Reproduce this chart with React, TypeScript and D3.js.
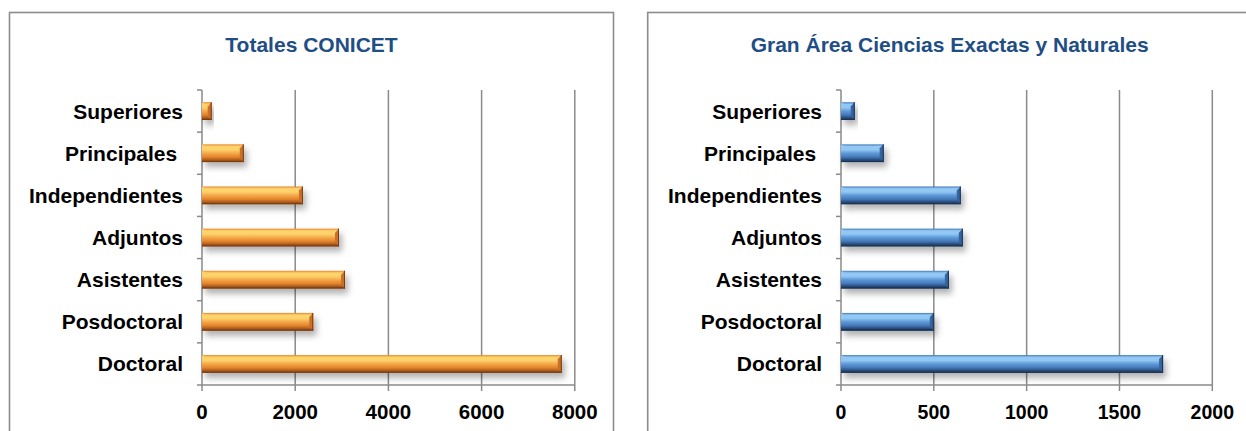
import React from "react";
import * as d3 from "d3";

const categories = ["Superiores", "Principales ", "Independientes", "Adjuntos", "Asistentes", "Posdoctoral", "Doctoral"];
const totalesValues = [208, 897, 2165, 2940, 3069, 2387, 7720];
const exactasValues = [74, 230, 645, 656, 581, 500, 1735];
const totalesTicks = [0, 2000, 4000, 6000, 8000];
const exactasTicks = [0, 500, 1000, 1500, 2000];
const titles = ["Totales CONICET", "Gran Área Ciencias Exactas y Naturales"];

type Palette = { top: string; light: string; mid: string; body: string; dark: string; edge: string; bevelR: string };
const orange: Palette = { top: "#e9822a", light: "#fdd36c", mid: "#f5a94a", body: "#e3832c", dark: "#b4601f", edge: "#7a3c10", bevelR: "#c9712a" };
const blue: Palette = { top: "#3f78b8", light: "#93c8f5", mid: "#5e9ad8", body: "#4478b8", dark: "#2a4f80", edge: "#1b3153", bevelR: "#35659c" };

const FONT = "'Liberation Sans', Arial, sans-serif";

function Panel({ fx, title, values, ticks, pal, id, x0, x1, tickSize }: any) {
  const x = d3.scaleLinear().domain([ticks[0], ticks[ticks.length - 1]]).range([x0, x1]);
  const y = d3.scaleBand<string>().domain(categories).range([90, 385]).paddingInner(0.58).paddingOuter(0.29);
  const step = y.step();
  const boundaries = d3.range(categories.length + 1).map((i) => 90 + i * step);
  const bw = y.bandwidth();
  const grid = "#8a8a8a";
  return (
    <g>
      <defs>
        <linearGradient id={`g${id}`} x1="0" y1="0" x2="0" y2="1">
          <stop offset="0" stopColor={pal.top} />
          <stop offset="0.12" stopColor={pal.light} />
          <stop offset="0.3" stopColor={pal.light} />
          <stop offset="0.5" stopColor={pal.mid} />
          <stop offset="0.72" stopColor={pal.body} />
          <stop offset="0.86" stopColor={pal.dark} />
          <stop offset="1" stopColor={pal.edge} />
        </linearGradient>
        <filter id={`s${id}`} x="-10%" y="-50%" width="130%" height="250%">
          <feDropShadow dx="3" dy="5" stdDeviation="3" floodColor="#000" floodOpacity="0.3" />
        </filter>
      </defs>
      <rect x={fx} y={12.5} width={604} height={440} fill="#fff" stroke="#8c8c8c" strokeWidth={1.6} />
      <text x={fx + 302} y={52} textAnchor="middle" fontFamily={FONT} fontWeight="bold" fontSize={21} fill="#1f4e85">
        {title}
      </text>
      {ticks.slice(1).map((t: number) => (
        <line key={t} x1={x(t)} x2={x(t)} y1={90} y2={385} stroke={grid} strokeWidth={1.5} />
      ))}
      <line x1={x0} x2={x0} y1={90} y2={385} stroke={grid} strokeWidth={1.5} />
      <line x1={x0} x2={x1} y1={385} y2={385} stroke={grid} strokeWidth={1.5} />
      {boundaries.map((b, i) => (
        <line key={i} x1={x0 - 5} x2={x0} y1={b} y2={b} stroke={grid} strokeWidth={1.5} />
      ))}
      {ticks.map((t: number) => (
        <line key={t} x1={x(t)} x2={x(t)} y1={385} y2={391} stroke={grid} strokeWidth={1.5} />
      ))}
      {ticks.map((t: number) => (
        <text key={t} x={x(t)} y={419} textAnchor="middle" fontFamily={FONT} fontWeight="bold" fontSize={tickSize} fill="#000">
          {t}
        </text>
      ))}
      {categories.map((c) => (
        <text key={c} x={x0 - 19} y={(y(c) as number) + bw / 2 + 7.5} textAnchor="end" fontFamily={FONT} fontWeight="bold" fontSize={21} fill="#000" style={{ whiteSpace: "pre" }}>
          {c}
        </text>
      ))}
      {categories.map((c, i) => {
        const by = y(c) as number;
        const xs = x(0);
        const xe = x(values[i]);
        const b = Math.min(4, (xe - xs) / 2);
        return (
          <g key={c} filter={`url(#s${id})`}>
            <rect x={xs} y={by} width={xe - xs} height={bw} fill={`url(#g${id})`} />
            <polygon points={`${xe},${by} ${xe},${by + bw} ${xe - b},${by + bw - b} ${xe - b},${by + b}`} fill={pal.bevelR} />
            <polygon points={`${xs},${by} ${xs + b * 2},${by + b} ${xs},${by + b}`} fill={pal.light} opacity={0.8} />
            <line x1={xs} x2={xe} y1={by + bw - 0.5} y2={by + bw - 0.5} stroke={pal.edge} strokeWidth={1} />
            <line x1={xe - 0.5} x2={xe - 0.5} y1={by} y2={by + bw} stroke={pal.edge} strokeWidth={1} />
          </g>
        );
      })}
    </g>
  );
}

export default function App() {
  return (
    <svg width={1246} height={431} style={{ position: "absolute", left: 0, top: 0 }}>
      <rect width={1246} height={431} fill="#fff" />
      <Panel fx={9.5} title={titles[0]} values={totalesValues} ticks={totalesTicks} pal={orange} id="a" x0={202} x1={574.8} tickSize={20.5} />
      <Panel fx={647.7} title={titles[1]} values={exactasValues} ticks={exactasTicks} pal={blue} id="b" x0={841} x1={1212.3} tickSize={19.5} />
    </svg>
  );
}
